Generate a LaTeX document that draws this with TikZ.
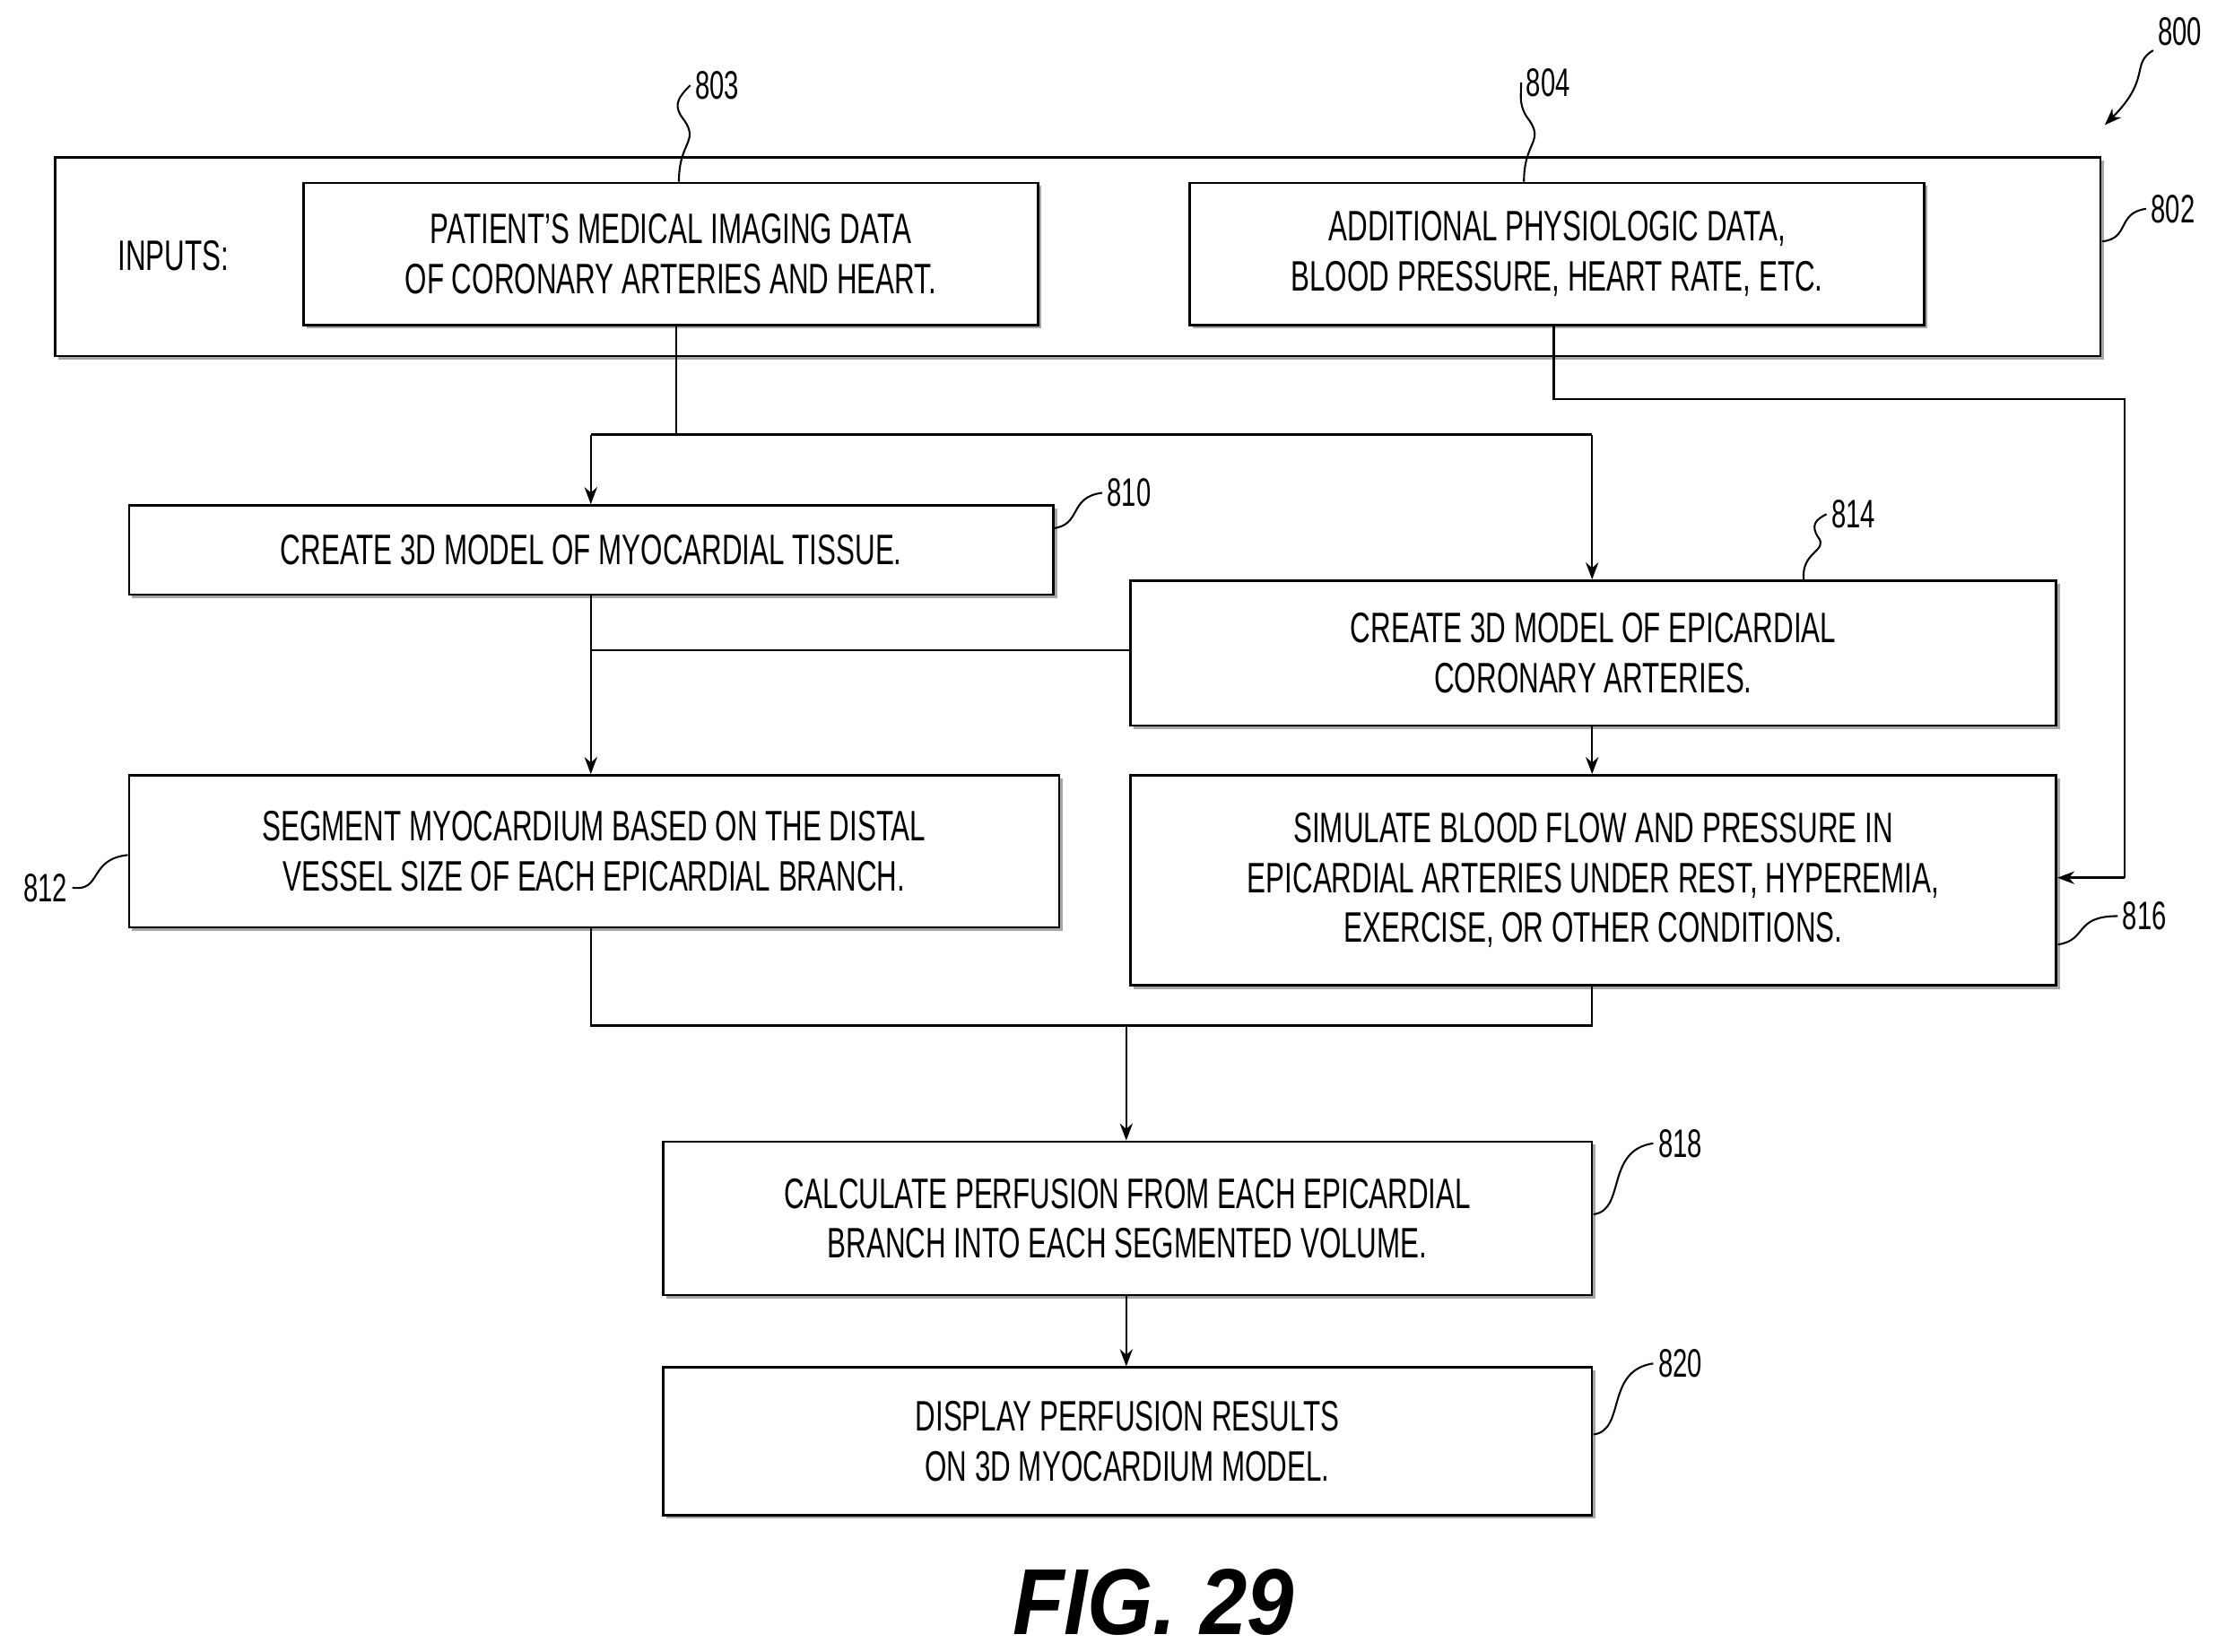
\documentclass[tikz,border=0pt]{standalone}
\usepackage{fontspec}
\setmainfont{Liberation Sans}[FakeStretch=0.66]
\newfontfamily\figfont{Liberation Sans}[FakeStretch=0.9]
\usetikzlibrary{arrows.meta}
\begin{document}
\begin{tikzpicture}[x=1pt,y=-1pt,
 box/.style={draw,line width=1.6pt,inner sep=0pt},
 sh/.style={draw=gray!70,line width=2.5pt},
 txt/.style={font=\fontsize{30}{35}\selectfont,align=center},
 lab/.style={font=\fontsize{28}{30}\selectfont},
 ln/.style={line width=1.5pt},
 ar/.style={line width=1.5pt,-{Stealth[length=12pt,width=9pt]}},
 ld/.style={line width=1.3pt}]
\useasboundingbox (0,0) rectangle (1561,1163);
\newcommand{\bx}[5]{% name x1 y1 x2 y2
 \draw[sh] (#2+3,#5+2) -- (#4+2,#5+2) -- (#4+2,#3+3);
 \node[box,fit/.style={},minimum width=#4-#2,minimum height=#5-#3,anchor=north west] (#1) at (#2,#3) {};}
\bx{b802}{38}{110}{1478}{250}
\bx{b803}{213}{128}{730}{228}
\bx{b804}{837}{128}{1354}{228}
\bx{b810}{90}{355}{741}{418}
\bx{b814}{795}{408}{1447}{510}
\bx{b812}{90}{545}{745}{652}
\bx{b816}{795}{545}{1447}{693}
\bx{b818}{466}{803}{1120}{911}
\bx{b820}{466}{962}{1120}{1066}
\node[txt] (tin) at (122,180) {INPUTS:};
\node[txt] (t803) at (b803) {PATIENT’S MEDICAL IMAGING DATA\\OF CORONARY ARTERIES AND HEART.};
\node[txt] (t804) at (b804) {ADDITIONAL PHYSIOLOGIC DATA,\\BLOOD PRESSURE, HEART RATE, ETC.};
\node[txt] (t810) at (b810) {CREATE 3D MODEL OF MYOCARDIAL TISSUE.};
\node[txt] (t814) at (b814) {CREATE 3D MODEL OF EPICARDIAL\\CORONARY ARTERIES.};
\node[txt] (t812) at (b812) {SEGMENT MYOCARDIUM BASED ON THE DISTAL\\VESSEL SIZE OF EACH EPICARDIAL BRANCH.};
\node[txt] (t816) at (b816) {SIMULATE BLOOD FLOW AND PRESSURE IN\\EPICARDIAL ARTERIES UNDER REST, HYPEREMIA,\\EXERCISE, OR OTHER CONDITIONS.};
\node[txt] (t818) at (b818) {CALCULATE PERFUSION FROM EACH EPICARDIAL\\BRANCH INTO EACH SEGMENTED VOLUME.};
\node[txt] (t820) at (b820) {DISPLAY PERFUSION RESULTS\\ON 3D MYOCARDIUM MODEL.};
\node (fig) at (812,1128) {\figfont\fontsize{66}{70}\selectfont\bfseries\itshape FIG. 29};
% connectors
\coordinate (j1) at (476,306); \coordinate (jl) at (416,306); \coordinate (jr) at (1121,306);
\draw[ln] (b803.south -| j1) -- (j1);
\draw[ln] (jl) -- (jr);
\draw[ar] (jl) -- (b810.north -| jl);
\draw[ar] (jr) -- (b814.north -| jr);
\coordinate (k1) at (1094,281); \coordinate (k2) at (1496,281); \coordinate (k3) at (1496,618);
\draw[ln] (b804.south -| k1) -- (k1) -- (k2) -- (k3);
\draw[ar] (k3) -- (b816.east |- k3);
\draw[ar] (b810.south -| jl) -- (b812.north -| jl);
\coordinate (m) at (416,458);
\draw[ln] (b814.west |- m) -- (m);
\draw[ar] (b814.south -| jr) -- (b816.north -| jr);
\coordinate (n1) at (416,722); \coordinate (n2) at (1121,722); \coordinate (n3) at (793,722);
\draw[ln] (b812.south -| n1) -- (n1) -- (n2) -- (b816.south -| n2);
\draw[ar] (n3) -- (b818.north -| n3);
\draw[ar] (b818.south -| n3) -- (b820.north -| n3);
% labels
\node[lab] (l803) at (505,60) {803};
\draw[ld] (478,128) .. controls (478,100) and (492,100) .. (482,85) .. controls (474,75) and (476,70) .. (l803.west);
\node[lab] (l804) at (1090,58) {804};
\draw[ld] (1073,128) .. controls (1073,100) and (1087,100) .. (1077,85) .. controls (1069,75) and (1071,68) .. (l804.west);
\node[lab] (l800) at (1535,22) {800};
\draw[ld,-{Stealth[length=12pt,width=9pt]}] (l800.south west) .. controls (1500,45) and (1515,55) .. (1482,88);
\node[lab] (l802) at (1530,147) {802};
\draw[ld] (1480,170) .. controls (1500,168) and (1490,150) .. (l802.west);
\node[lab] (l810) at (795,347) {810};
\draw[ld] (741,372) .. controls (762,370) and (752,350) .. (l810.west);
\node[lab] (l814) at (1305,362) {814};
\draw[ld] (1270,408) .. controls (1268,388) and (1288,388) .. (1280,378) .. controls (1275,370) and (1278,366) .. (l814.west);
\node[lab] (l812) at (32,625) {812};
\draw[ld] (l812.east) .. controls (72,628) and (62,605) .. (90,602);
\node[lab] (l816) at (1510,645) {816};
\draw[ld] (1449,665) .. controls (1470,662) and (1460,645) .. (l816.west);
\node[lab] (l818) at (1183,805) {818};
\draw[ld] (1122,855) .. controls (1145,852) and (1130,810) .. (l818.west);
\node[lab] (l820) at (1183,960) {820};
\draw[ld] (1122,1010) .. controls (1145,1007) and (1130,965) .. (l820.west);
\end{tikzpicture}
\end{document}
